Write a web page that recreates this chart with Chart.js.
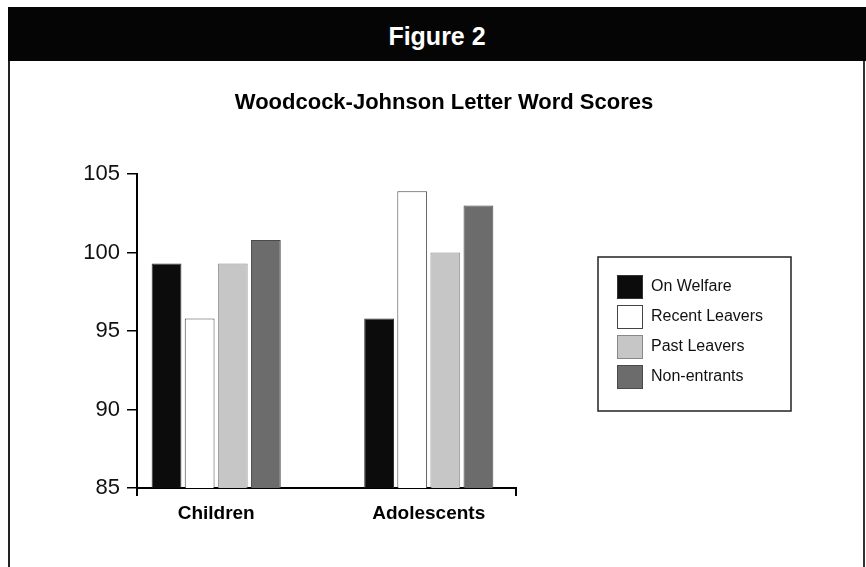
<!DOCTYPE html>
<html>
<head>
<meta charset="utf-8">
<script src="https://cdn.jsdelivr.net/npm/chart.js@4"></script>
<style>
  body { margin: 0; background: #fff; }
  #wrap { position: relative; width: 866px; height: 567px; overflow: hidden; }
  #frame { position: absolute; left: 8px; top: 7px; width: 853px; height: 570px;
           border-left: 2px solid #222; border-right: 2px solid #333; }
  #head { position: absolute; left: 8px; top: 7px; width: 858px; height: 54px; background: #050505;
          color: #fff; font: bold 25px 'Liberation Sans', Arial, sans-serif;
          text-align: center; line-height: 58px; }
  #chart1 { position: absolute; left: 0; top: 0; }
</style>
</head>
<body>
<div id="wrap">
  <div id="frame"></div>
  <div id="head">Figure 2</div>
  <canvas id="chart1" width="866" height="567"></canvas>
</div>
<script>
// data
const groups = ['Children', 'Adolescents'];
const onWelfare = [99.3, 95.8];
const recentLeavers = [95.8, 103.9];
const pastLeavers = [99.3, 100.0];
const nonEntrants = [100.8, 103.0];
const yTicks = [85, 90, 95, 100, 105];

window.onload = function () {

    // boxed legend to the right of the plot, like the original
    let boxLegend = {
        id: 'boxLegend',
        afterDraw(chart) {
            let ctx = chart.ctx;
            let area = chart.chartArea;
            let sets = chart.data.datasets;
            let x0 = area.right + 82;
            let rowH = 30;
            let boxH = sets.length * rowH + 34;
            let y0 = (area.top + area.bottom) / 2 - boxH / 2 + 3;
            ctx.save();
            ctx.strokeStyle = '#222';
            ctx.lineWidth = 1.5;
            ctx.strokeRect(x0, y0, 193, boxH);
            ctx.font = "16px 'Liberation Sans', Arial, sans-serif";
            ctx.textBaseline = 'middle';
            sets.forEach((ds, i) => {
                let sy = y0 + 18 + i * rowH;
                ctx.fillStyle = ds.backgroundColor;
                ctx.fillRect(x0 + 19, sy, 26, 24);
                ctx.strokeStyle = ds.borderColor;
                ctx.lineWidth = 1;
                ctx.strokeRect(x0 + 19.5, sy + 0.5, 25, 23);
                ctx.fillStyle = '#111';
                ctx.fillText(ds.label, x0 + 53, sy + 12);
            });
            // small overhangs of the axes below the plot
            ctx.strokeStyle = '#000';
            ctx.lineWidth = 2;
            ctx.beginPath();
            ctx.moveTo(area.left, area.bottom);
            ctx.lineTo(area.left, area.bottom + 8);
            ctx.moveTo(area.right, area.bottom);
            ctx.lineTo(area.right, area.bottom + 8);
            ctx.stroke();
            ctx.restore();
        }
    };

    let chart1 = document.getElementById('chart1').getContext('2d');

    let barChart = new Chart(chart1, {
        type: 'bar',
        data: {
            labels: groups,
            datasets: [{
                label: 'On Welfare',
                data: onWelfare,
                backgroundColor: '#0c0c0c',
                borderColor: '#333',
                borderWidth: 1
            },
            {
                label: 'Recent Leavers',
                data: recentLeavers,
                backgroundColor: '#ffffff',
                borderColor: '#444',
                borderWidth: 1
            },
            {
                label: 'Past Leavers',
                data: pastLeavers,
                backgroundColor: '#c6c6c6',
                borderColor: '#888',
                borderWidth: 1
            },
            {
                label: 'Non-entrants',
                data: nonEntrants,
                backgroundColor: '#6c6c6c',
                borderColor: '#4a4a4a',
                borderWidth: 1
            }]
        },
        options: {
            responsive: false,
            animation: false,
            layout: { padding: { left: 22, right: 0, top: 0, bottom: 0 } },
            datasets: { bar: { categoryPercentage: 0.623, barPercentage: 0.9 } },
            plugins: {
                title: {
                    display: true,
                    text: 'Woodcock-Johnson Letter Word Scores',
                    color: '#000',
                    font: { family: "'Liberation Sans', Arial, sans-serif", size: 22, weight: 'bold' },
                    padding: { top: 90, bottom: 57.6 }
                },
                legend: { display: false },
                tooltip: { enabled: false }
            },
            scales: {
                x: {
                    grid: { display: false, drawTicks: false },
                    border: { color: '#000', width: 2 },
                    ticks: {
                        color: '#000',
                        padding: 14,
                        font: { family: "'Liberation Sans', Arial, sans-serif", size: 19, weight: 'bold' }
                    },
                    afterFit: s => { s.height = 79; },
                    // groups sit off-centre on the axis in the original
                    afterBuildTicks: s => { s._startValue = -0.3726; s._valueRange = 1.783; }
                },
                y: {
                    min: yTicks[0],
                    max: yTicks[yTicks.length - 1],
                    afterBuildTicks: s => { s.ticks = yTicks.map(v => ({ value: v })); },
                    grid: { drawOnChartArea: false, tickLength: 10, color: '#000', lineWidth: 1.5 },
                    border: { color: '#000', width: 2 },
                    ticks: {
                        color: '#111',
                        padding: 7,
                        font: { family: "'Liberation Sans', Arial, sans-serif", size: 22 }
                    },
                    afterFit: s => { s.width = 115; }
                },
                // empty space on the right that holds the legend
                yPad: {
                    type: 'linear',
                    position: 'right',
                    grid: { display: false, drawTicks: false },
                    border: { display: false },
                    ticks: { display: false },
                    afterFit: s => { s.width = 350; }
                }
            }
        },
        plugins: [boxLegend]
    });
}
</script>
</body>
</html>
